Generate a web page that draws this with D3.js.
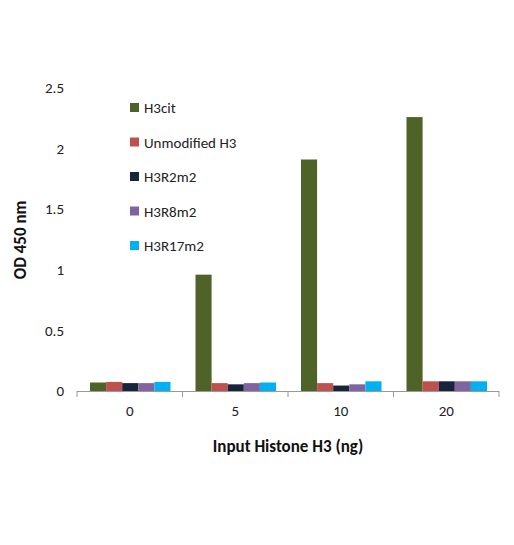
<!DOCTYPE html>
<html><head><meta charset="utf-8">
<script src="https://cdn.jsdelivr.net/npm/d3@7"></script>
<style>body{margin:0;background:#fff}text{font-family:Calibri,Carlito,"Liberation Sans",Arial,sans-serif}</style>
</head><body><div id="chart"></div>
<script>
const categories = ["0", "5", "10", "20"];
const seriesNames = ["H3cit", "Unmodified H3", "H3R2m2", "H3R8m2", "H3R17m2"];
const H3cit = [0.07, 0.96, 1.91, 2.26];
const unmodified = [0.075, 0.065, 0.065, 0.08];
const H3R2m2 = [0.065, 0.055, 0.045, 0.08];
const H3R8m2 = [0.065, 0.065, 0.055, 0.08];
const H3R17m2 = [0.075, 0.07, 0.08, 0.08];
const yTicks = [0, 0.5, 1, 1.5, 2, 2.5];
const colors = ["#4f6228", "#c0504d", "#17243b", "#8064a2", "#00b0f0"];

const values = [H3cit, unmodified, H3R2m2, H3R8m2, H3R17m2];
const data = categories.map((c, i) => ({cat: c, vals: values.map(v => v[i])}));

const svg = d3.select("#chart").append("svg").attr("width", 514).attr("height", 545);
const x = d3.scaleBand().domain(categories).range([77, 499]);
const x1 = d3.scaleBand().domain(seriesNames).range([13, x.bandwidth() - 12]);
const y = d3.scaleLinear().domain([0, 2.5]).range([391, 88]);

// y axis (no line, just labels)
svg.append("g").selectAll("text").data(yTicks).enter().append("text")
  .attr("x", 64).attr("y", d => y(d)).attr("dy", "0.35em").attr("text-anchor", "end")
  .attr("font-size", 15).attr("fill", "#222").text(d => d);

// x axis
svg.append("line").attr("x1", 77).attr("x2", 499).attr("y1", 391.5).attr("y2", 391.5).attr("stroke", "#999");
svg.append("g").selectAll("line").data(categories.concat(["end"])).enter().append("line")
  .attr("x1", (d, i) => 77 + i * x.step()).attr("x2", (d, i) => 77 + i * x.step())
  .attr("y1", 391).attr("y2", 397).attr("stroke", "#999");
svg.append("g").selectAll("text").data(categories).enter().append("text")
  .attr("x", d => x(d) + x.bandwidth() / 2).attr("y", 416).attr("text-anchor", "middle")
  .attr("font-size", 15).attr("fill", "#222").text(d => d);

// bars
svg.append("g").selectAll("g").data(data).enter().append("g")
  .attr("transform", d => `translate(${x(d.cat)},0)`)
  .selectAll("rect").data(d => d.vals.map((v, i) => ({k: seriesNames[i], v, i}))).enter().append("rect")
  .attr("x", d => x1(d.k)).attr("width", x1.bandwidth())
  .attr("y", d => y(d.v)).attr("height", d => y(0) - y(d.v))
  .attr("fill", d => colors[d.i]);

// legend
const lg = svg.append("g").selectAll("g").data(seriesNames).enter().append("g")
  .attr("transform", (d, i) => `translate(130,${108 + i * 34.5})`);
lg.append("rect").attr("x", 0).attr("y", -5).attr("width", 9).attr("height", 9).attr("fill", (d, i) => colors[i]);
lg.append("text").attr("x", 14).attr("y", 0).attr("dy", "0.35em").attr("font-size", 15).attr("fill", "#222").text(d => d);

// titles
svg.append("text").attr("x", 288).attr("y", 452).attr("text-anchor", "middle")
  .attr("font-size", 17).attr("font-weight", "bold").attr("fill", "#111").text("Input Histone H3 (ng)");
svg.append("text").attr("transform", "translate(26,240) rotate(-90)").attr("text-anchor", "middle")
  .attr("font-size", 17).attr("font-weight", "bold").attr("fill", "#111").text("OD 450 nm");
</script></body></html>
